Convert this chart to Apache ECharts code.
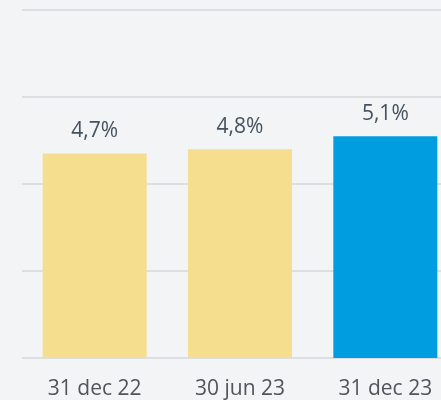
<!DOCTYPE html>
<html lang="en">
<head>
    <meta charset="UTF-8">
    <title>Chart</title>
    <script src="https://cdn.jsdelivr.net/npm/echarts@6/dist/echarts.min.js"></script>
    <style>
        html, body { margin: 0; padding: 0; background: #f3f4f6; }
        #bar { width: 441px; height: 400px; }
    </style>
</head>
<body>
    <div id="bar"></div>

    <script>
        var categories = ['31 dec 22', '30 jun 23', '31 dec 23'];
        var values = [4.7, 4.8, 5.1];
        var barColors = ['#f5de8d', '#f5de8d', '#009ee0'];

        var myecharts = echarts.init(document.getElementById('bar'));

        var option = {
            backgroundColor: '#f3f4f6',
            animation: false,
            grid: {
                left: 22, top: 10, width: 436, height: 348,
                containLabel: false,
                outerBoundsMode: 'none'
            },
            xAxis: {
                type: 'category',
                data: categories,
                axisLine: { show: false },
                axisTick: { show: false },
                axisLabel: {
                    color: '#50555b',
                    fontFamily: 'Open Sans',
                    fontSize: 21,
                    margin: 21
                }
            },
            yAxis: {
                type: 'value',
                min: 0,
                max: 8,
                interval: 2,
                axisLabel: { show: false },
                axisLine: { show: false },
                axisTick: { show: false },
                splitLine: { lineStyle: { color: '#dcdee1', width: 2 } }
            },
            series: [
                {
                    type: 'bar',
                    barWidth: 104,
                    data: values.map(function (v, i) {
                        return { value: v, itemStyle: { color: barColors[i] } };
                    }),
                    label: {
                        show: true,
                        position: 'top',
                        distance: 12,
                        color: '#45525f',
                        fontFamily: 'Open Sans',
                        fontSize: 21,
                        formatter: function (p) {
                            return String(p.value).replace('.', ',') + '%';
                        }
                    }
                }
            ]
        };

        myecharts.setOption(option);
    </script>
</body>
</html>
